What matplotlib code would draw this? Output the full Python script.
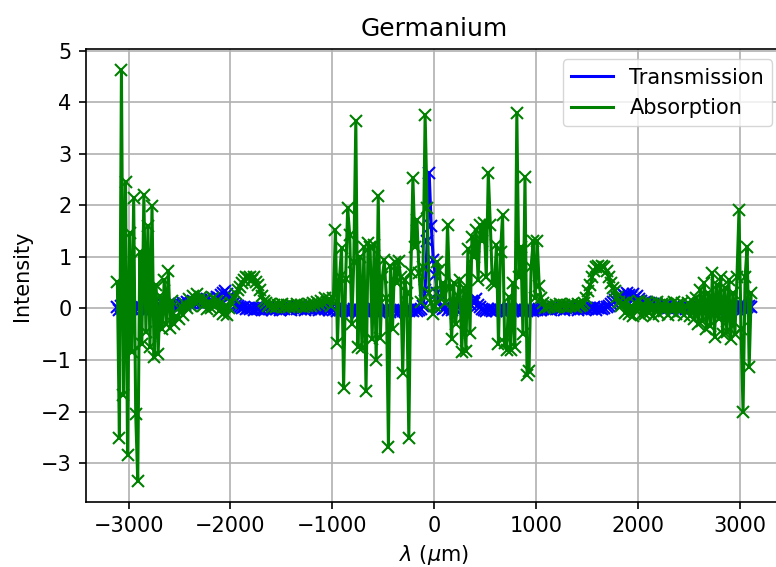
"""Germanium spectrum: transmission and absorption against wavelength."""

import numpy as np
import matplotlib

matplotlib.use("Agg")
import matplotlib.pyplot as plt

# wavelength grid (um): first sample and spacing
X_START = -3110.0
X_STEP = 20.0

# sampled intensities, 10 samples per row (200 um per row)
transmission = [
    0.02, -0.03, 0.04, -0.02, 0.03, -0.04, 0.02, 0.00, -0.03, 0.03,
    -0.02, 0.04, -0.01, 0.03, -0.03, 0.02, 0.00, 0.04, -0.02, 0.03,
    0.01, 0.05, 0.02, 0.06, 0.03, 0.07, 0.04, 0.06, 0.08, 0.05,
    0.09, 0.06, 0.10, 0.07, 0.12, 0.08, 0.11, 0.14, 0.10, 0.13,
    0.12, 0.16, 0.11, 0.15, 0.18, 0.13, 0.17, 0.20, 0.16, 0.22,
    0.20, 0.26, 0.30, 0.33, 0.28, 0.22, 0.15, 0.10, 0.06, 0.04,
    0.03, 0.01, 0.02, -0.01, 0.00, -0.02, 0.01, -0.03, 0.00, -0.02,
    0.01, -0.03, 0.00, -0.02, 0.02, -0.01, -0.03, 0.01, -0.02, 0.00,
    -0.03, 0.01, -0.02, 0.02, -0.01, -0.03, 0.00, 0.02, -0.02, 0.01,
    -0.01, 0.02, -0.03, 0.00, 0.01, -0.02, 0.02, -0.01, 0.00, -0.03,
    -0.01, 0.02, -0.02, 0.01, -0.03, 0.00, -0.04, -0.02, -0.05, -0.03,
    -0.06, -0.03, -0.05, -0.07, -0.04, -0.06, -0.02, -0.05, -0.07, -0.03,
    -0.05, -0.06, -0.03, -0.07, -0.04, -0.05, -0.02, -0.06, -0.04, -0.07,
    -0.03, -0.05, -0.06, -0.04, -0.07, -0.03, -0.05, -0.02, -0.06, -0.04,
    -0.05, -0.07, -0.03, -0.06, -0.04, -0.05, -0.02, -0.06, -0.03, -0.01,
    0.05, 0.35, 1.30, 2.62, 1.60, 0.94, 0.65, 0.30, 0.12, 0.02,
    -0.02, 0.00, -0.03, 0.02, -0.04, 0.01, -0.02, 0.03, 0.05, 0.08,
    0.10, 0.05, 0.12, 0.08, 0.15, 0.10, 0.18, 0.06, 0.03, -0.01,
    -0.03, -0.05, -0.02, -0.04, -0.06, -0.03, -0.05, -0.02, -0.04, -0.06,
    -0.03, -0.05, -0.04, -0.02, -0.06, -0.03, -0.05, -0.04, -0.02, -0.05,
    -0.03, -0.06, -0.04, -0.02, -0.05, -0.03, -0.04, -0.02, -0.03, -0.01,
    0.00, -0.02, 0.01, -0.03, 0.02, -0.01, 0.00, -0.02, 0.01, -0.03,
    0.00, 0.02, -0.02, 0.01, -0.01, 0.02, -0.03, 0.00, 0.01, -0.02,
    0.00, -0.02, 0.01, -0.01, 0.02, -0.03, 0.00, 0.01, -0.02, 0.00,
    0.02, 0.05, 0.08, 0.12, 0.16, 0.20, 0.25, 0.22, 0.28, 0.24,
    0.30, 0.26, 0.22, 0.28, 0.20, 0.24, 0.18, 0.15, 0.10, 0.12,
    0.08, 0.10, 0.05, 0.08, 0.04, 0.06, 0.03, 0.05, 0.02, 0.04,
    0.01, 0.03, -0.01, 0.02, 0.00, 0.03, -0.02, 0.01, 0.03, -0.01,
    0.02, 0.00, 0.03, -0.02, 0.01, 0.04, -0.01, 0.02, 0.00, 0.03,
    -0.02, 0.02, 0.04, -0.01, 0.03, 0.00, 0.02, -0.03, 0.04, 0.01,
    0.03, -0.02, 0.02, 0.05, -0.01, 0.03, 0.06, -0.02, 0.04, 0.02,
    0.05, 0.03,
]

absorption = [
    0.52, -2.52, 4.63, -1.68, 2.46, -2.84, 1.46, -0.85, 2.14, -2.05,
    -3.35, 1.10, -0.70, 2.20, -0.45, 1.60, -0.75, 1.98, -0.95, 0.45,
    -0.88, 0.25, -0.40, 0.55, -0.30, 0.72, -0.38, 0.15, -0.30, -0.15,
    -0.20, 0.05, -0.12, 0.08, 0.00, 0.18, 0.05, 0.25, 0.12, 0.28,
    0.15, 0.22, 0.05, 0.18, -0.02, 0.12, 0.00, 0.20, 0.05, 0.15,
    -0.05, 0.10, -0.10, 0.05, -0.12, 0.00, 0.10, 0.20, 0.28, 0.35,
    0.42, 0.50, 0.55, 0.60, 0.58, 0.60, 0.55, 0.60, 0.52, 0.45,
    0.35, 0.25, 0.15, 0.10, 0.05, 0.08, 0.02, 0.06, 0.03, 0.07,
    0.04, 0.08, 0.02, 0.06, 0.03, 0.07, 0.05, 0.02, 0.08, 0.04,
    0.06, 0.03, 0.07, 0.05, 0.09, 0.04, 0.10, 0.06, 0.12, 0.08,
    0.15, 0.10, 0.20, 0.12, 0.18, 0.05, 0.20, 1.52, -0.67, 0.60,
    1.17, -1.55, 0.57, 1.94, 1.43, -0.30, 0.90, 3.64, -0.74, 1.00,
    -0.77, 1.20, -1.61, 1.26, 1.20, -0.60, 1.22, -1.00, 2.17, -0.57,
    0.60, 0.93, 0.20, -2.68, 0.82, -0.40, 0.90, 0.50, 0.92, 0.60,
    -1.25, 0.55, 0.30, -2.51, 0.70, 2.53, 1.20, 1.72, 0.69, 0.12,
    0.80, 3.75, 1.94, 0.30, 0.10, -0.10, 0.05, 0.90, 0.75, 0.20,
    0.50, 0.10, 1.62, 0.40, -0.60, 0.50, -0.30, 0.25, 0.56, -0.85,
    0.40, -0.83, 1.16, -0.47, 1.39, 1.00, 1.52, 0.56, 1.61, 1.30,
    1.65, 0.60, 2.62, 1.61, 0.50, 0.45, 1.22, -0.70, 1.10, 1.81,
    -0.67, -0.80, 0.23, -0.80, 0.50, -0.75, 3.79, 0.60, 1.20, -0.50,
    2.55, -1.29, -1.22, 0.80, 1.30, 0.20, 1.30, 0.43, 0.20, 0.10,
    0.00, 0.05, 0.02, 0.07, 0.03, 0.06, 0.02, 0.08, 0.04, 0.06,
    0.03, 0.07, 0.04, 0.08, 0.05, 0.03, 0.09, 0.05, 0.07, 0.10,
    0.20, 0.33, 0.45, 0.60, 0.73, 0.80, 0.83, 0.78, 0.83, 0.80,
    0.73, 0.60, 0.50, 0.40, 0.33, 0.22, 0.13, 0.05, 0.10, -0.08,
    0.12, -0.10, 0.05, -0.15, 0.10, -0.05, 0.15, -0.12, 0.08, -0.10,
    0.12, -0.08, 0.10, -0.15, 0.05, 0.12, -0.10, 0.08, -0.05, 0.10,
    -0.12, 0.06, -0.05, 0.12, -0.10, 0.08, -0.06, 0.10, -0.12, 0.05,
    0.10, -0.15, 0.15, -0.20, 0.20, -0.30, 0.35, -0.25, 0.50, -0.40,
    0.30, -0.35, 0.68, -0.55, 0.45, -0.20, 0.60, -0.50, 0.40, -0.45,
    0.55, -0.60, 0.30, -0.50, 0.60, 1.91, -0.40, -2.00, 0.60, 1.20,
    -1.13, 0.30,
]

lam = X_START + X_STEP * np.arange(len(absorption))

fig = plt.figure(figsize=(7.76, 5.67), dpi=100)
# axes run a little past the right edge of the canvas
ax = fig.add_axes([0.1104, 0.1141, 0.8985, 0.7995])

ax.plot(lam, transmission, color="b", lw=2.2, label="Transmission")
ax.plot(lam, transmission, "bx", ms=9, mew=1.5)
ax.plot(lam, absorption, color="g", lw=2.2, label="Absorption")
ax.plot(lam, absorption, "gx", ms=9, mew=1.5)

ax.set_xlim(-3421, 3421)
ax.set_ylim(-3.76, 5.03)
ax.set_xticks([-3000, -2000, -1000, 0, 1000, 2000, 3000])
ax.set_yticks(range(-3, 6))
ax.grid(True, color="#b0b0b0", lw=1.2)
ax.tick_params(labelsize=15, length=5.2, width=1.2, pad=5)
for spine in ax.spines.values():
    spine.set_linewidth(1.2)

ax.set_title("Germanium", fontsize=18, pad=9)
ax.set_xlabel(r"$\lambda$ ($\mu$m)", fontsize=15, labelpad=5)
ax.set_ylabel("Intensity", fontsize=15, labelpad=6)
ax.legend(loc="upper right", fontsize=15)

fig.savefig("out.png", dpi=100)
